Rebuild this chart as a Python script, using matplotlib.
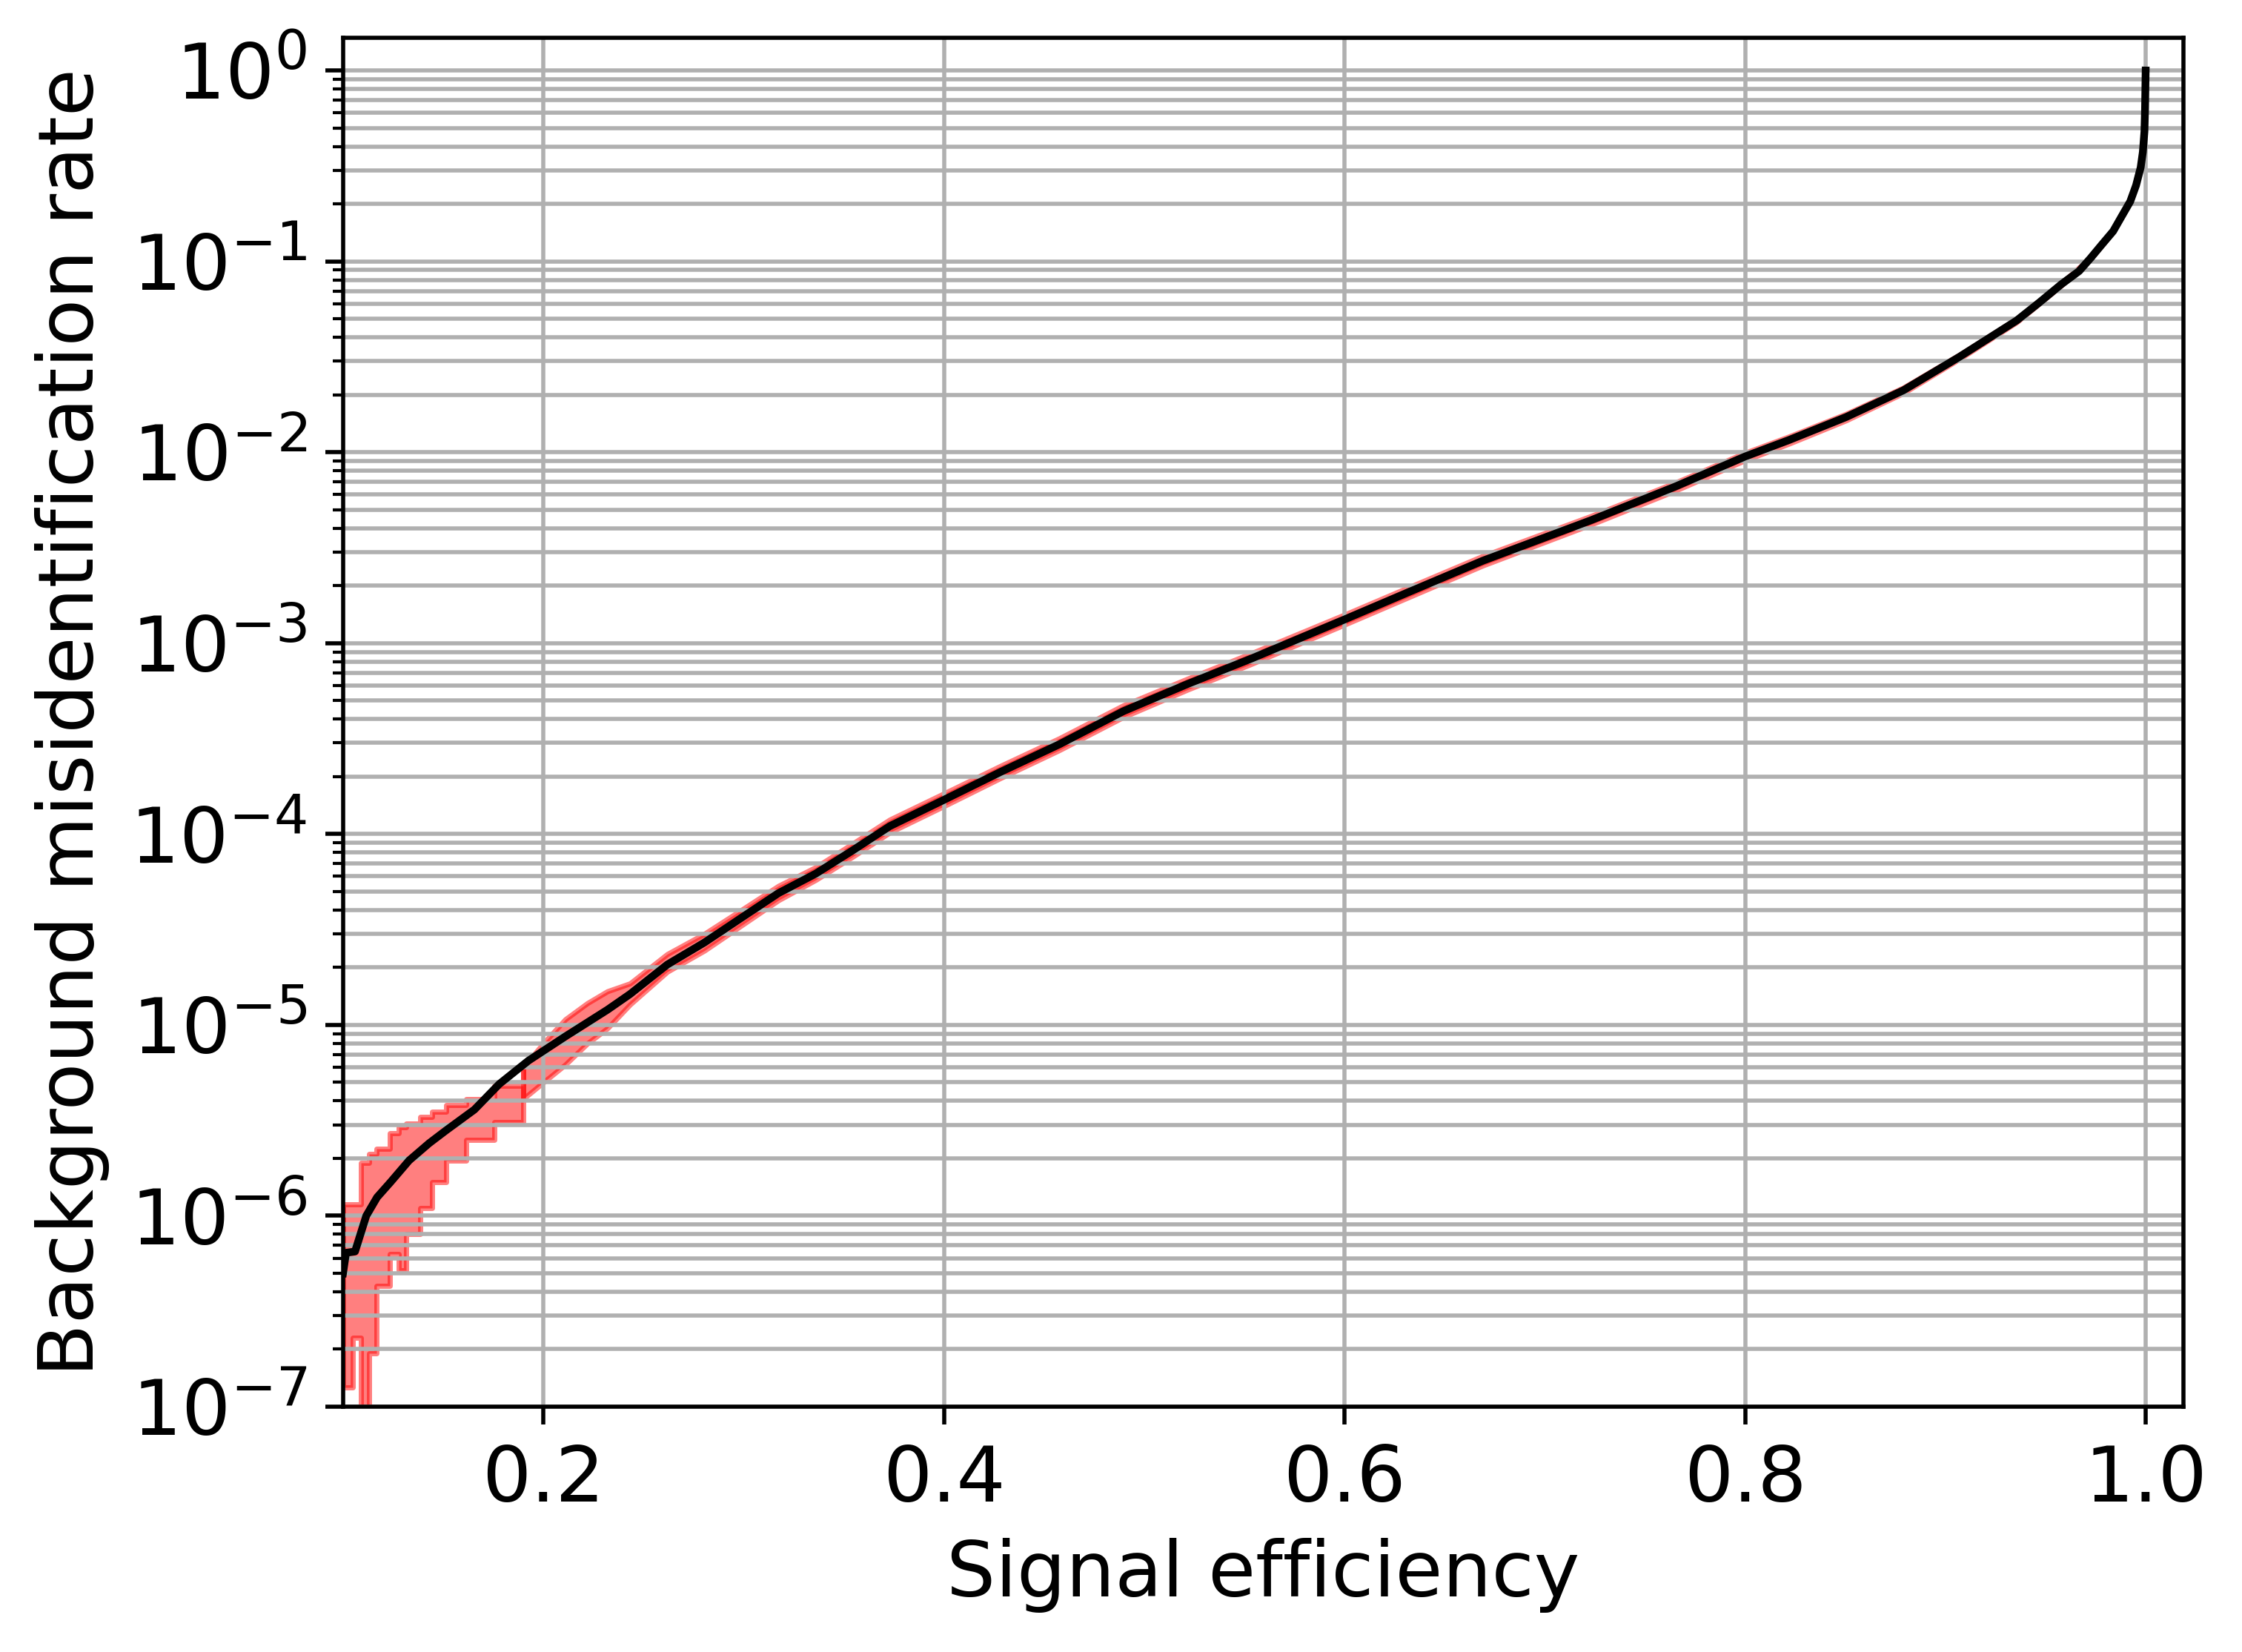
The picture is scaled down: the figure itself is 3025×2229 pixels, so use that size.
import matplotlib
matplotlib.use("Agg")
import matplotlib.pyplot as plt

plt.rcParams['font.size'] = 15

# central curve (signal efficiency vs background mis-id rate)
eff = [0.100, 0.1015, 0.106, 0.1116, 0.117, 0.1237, 0.133, 0.143, 0.1514, 0.1656,
       0.178, 0.1926, 0.211, 0.232, 0.2433, 0.2619, 0.2804, 0.2989, 0.3174, 0.336,
       0.3544, 0.373, 0.400, 0.4285, 0.4576, 0.4896, 0.5215, 0.5535, 0.600, 0.632,
       0.669, 0.723, 0.765, 0.800, 0.822, 0.8505, 0.879, 0.907, 0.9356, 0.947,
       0.958, 0.9668, 0.9725, 0.978, 0.9838, 0.988, 0.9923, 0.9952, 0.9975, 0.9986,
       0.9994, 0.9997, 1.000]
mis = [5.0e-7, 6.4e-7, 6.5e-7, 1.0e-6, 1.25e-6, 1.5e-6, 1.95e-6, 2.4e-6, 2.8e-6, 3.6e-6,
       4.9e-6, 6.5e-6, 8.7e-6, 1.2e-5, 1.45e-5, 2.07e-5, 2.7e-5, 3.64e-5, 4.9e-5, 6.2e-5,
       8.2e-5, 1.1e-4, 1.51e-4, 2.12e-4, 2.95e-4, 4.4e-4, 6.1e-4, 8.3e-4, 1.33e-3, 1.85e-3,
       2.7e-3, 4.4e-3, 6.6e-3, 9.5e-3, 1.16e-2, 1.53e-2, 2.11e-2, 3.16e-2, 4.9e-2, 6.1e-2,
       7.6e-2, 8.9e-2, 0.104, 0.122, 0.144, 0.172, 0.206, 0.25, 0.31, 0.374,
       0.48, 0.63, 1.0]

# uncertainty band, low-efficiency part (low statistics, stepped)
low_x = [0.100, 0.105, 0.1088, 0.113, 0.1166, 0.1235, 0.128, 0.1315, 0.1386, 0.1443,
         0.1514, 0.1614, 0.1756, 0.190]
low_lo = [1.26e-7, 2.3e-7, 8e-8, 1.9e-7, 4.3e-7, 6.3e-7, 5.2e-7, 8e-7, 1.1e-6, 1.5e-6,
          1.95e-6, 2.5e-6, 3.1e-6, 4.1e-6]
low_hi = [1.15e-6, 1.15e-6, 1.9e-6, 2.1e-6, 2.25e-6, 2.7e-6, 2.9e-6, 3.05e-6, 3.3e-6, 3.5e-6,
          3.8e-6, 4.1e-6, 4.8e-6, 6.0e-6]

# uncertainty band, rest of the curve
band_x = [0.190, 0.200, 0.211, 0.222, 0.232, 0.2433, 0.2619, 0.2804, 0.2989, 0.3174,
          0.336, 0.3544, 0.373, 0.400, 0.4285, 0.4576, 0.4896, 0.5215, 0.5535, 0.600,
          0.632, 0.669, 0.723, 0.765, 0.800, 0.822, 0.8505, 0.879, 0.907, 0.9356,
          0.958, 0.9725, 0.9838, 0.9923, 0.9975, 0.9994, 1.000]
band_lo = [4.1e-6, 5.0e-6, 6.2e-6, 8.0e-6, 9.6e-6, 1.28e-5, 1.9e-5, 2.45e-5, 3.32e-5, 4.5e-5,
           5.75e-5, 7.6e-5, 1.02e-4, 1.4e-4, 1.97e-4, 2.75e-4, 4.1e-4, 5.7e-4, 7.78e-4, 1.25e-3,
           1.74e-3, 2.55e-3, 4.18e-3, 6.28e-3, 9.08e-3, 1.11e-2, 1.47e-2, 2.04e-2, 3.08e-2, 4.8e-2,
           7.5e-2, 0.103, 0.143, 0.205, 0.31, 0.48, 1.0]
band_hi = [6.0e-6, 8.0e-6, 1.07e-5, 1.3e-5, 1.5e-5, 1.65e-5, 2.35e-5, 3.0e-5, 4.0e-5, 5.35e-5,
           6.7e-5, 8.9e-5, 1.19e-4, 1.63e-4, 2.28e-4, 3.17e-4, 4.72e-4, 6.5e-4, 8.85e-4, 1.41e-3,
           1.96e-3, 2.86e-3, 4.63e-3, 6.92e-3, 9.93e-3, 1.21e-2, 1.59e-2, 2.18e-2, 3.24e-2, 5.0e-2,
           7.7e-2, 0.105, 0.145, 0.207, 0.31, 0.48, 1.0]

fig = plt.figure(figsize=(6.05, 4.458))
ax = fig.add_axes([0.153, 0.1485, 0.821, 0.8285])

ax.fill_between(low_x, low_lo, low_hi, step='post', color='red', alpha=0.5)
ax.fill_between(band_x, band_lo, band_hi, color='red', alpha=0.5)
ax.plot(eff, mis, color='black', lw=1.5)

ax.set_yscale('log')
ax.set_xlim(0.1, 1.019)
ax.set_ylim(1e-7, 1.48)
ax.grid(True, which='both')
ax.set_xlabel('Signal efficiency')
ax.set_ylabel('Background misidentification rate')

fig.savefig('out.png', dpi=500)
